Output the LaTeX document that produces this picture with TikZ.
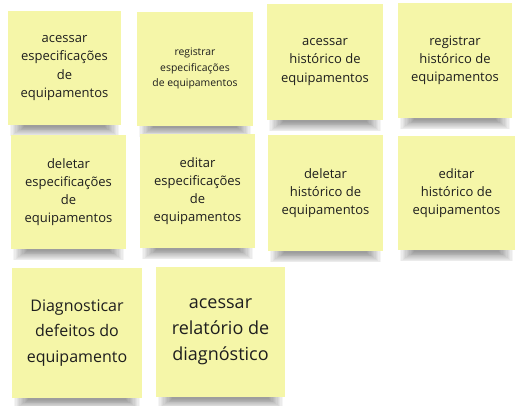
\documentclass[tikz,border=0pt]{standalone}
\usepackage{fontspec}
\setmainfont{Open Sans}
\usepackage{tikz}
\usetikzlibrary{backgrounds}
\definecolor{notey}{RGB}{245,246,168}
\definecolor{notetxt}{RGB}{30,30,30}
\tikzstyle{note}=[rectangle,fill=notey,inner sep=0pt,align=center,text=notetxt]
\tikzstyle{small note}=[note,font=\fontsize{13}{18.2}\selectfont]
\tikzstyle{tiny note}=[note,font=\fontsize{10.4}{15.5}\selectfont]

\begin{document}
\begin{tikzpicture}[x=1pt,y=-1pt]
\useasboundingbox (0,0) rectangle (525,405);
% first row
\node[small note, minimum width=113pt, minimum height=114pt] (acesesp) at (64.5,68) {acessar\\especificações\\de\\equipamentos};
\node[tiny note, minimum width=116pt, minimum height=114pt] (regesp) at (195,68.5) {registrar\\especificações\\de equipamentos};
\node[small note, minimum width=116pt, minimum height=116pt] (aceshist) at (325,62) {acessar\\histórico de\\equipamentos};
\node[small note, minimum width=114pt, minimum height=115pt] (reghist) at (455,60.5) {registrar\\histórico de\\equipamentos};
% second row
\node[small note, minimum width=115pt, minimum height=114pt] (delesp) at (68.5,192) {deletar\\especificações\\de\\equipamentos};
\node[small note, minimum width=115pt, minimum height=114pt] (editesp) at (197.5,191) {editar\\especificações\\de\\equipamentos};
\node[small note, minimum width=115pt, minimum height=116pt] (delhist) at (325.5,193) {deletar\\histórico de\\equipamentos};
\node[small note, minimum width=117pt, minimum height=114pt] (edithist) at (456.5,193) {editar\\histórico de\\equipamentos};
% third row
\node[note, font=\fontsize{16}{25.5}\selectfont, minimum width=130pt, minimum height=130pt] (diag) at (77,333) {Diagnosticar\\defeitos do\\equipamento};
\node[note, font=\fontsize{18}{26}\selectfont, minimum width=129pt, minimum height=130pt] (relat) at (220.5,332) {acessar\\relatório de\\diagnóstico};
% shadows
\begin{scope}[on background layer]
\foreach \n in {acesesp,regesp,aceshist,reghist,delesp,editesp,delhist,edithist,diag,relat}
  \foreach \k in {1,...,12}
    \fill[black,opacity=0.04]
      ([xshift=1pt+1.3*\k pt, yshift=2pt]\n.south west)
      rectangle ([xshift=-1pt-1.3*\k pt, yshift=-12pt+0.85*\k pt]\n.south east);
\end{scope}
\end{tikzpicture}
\end{document}
